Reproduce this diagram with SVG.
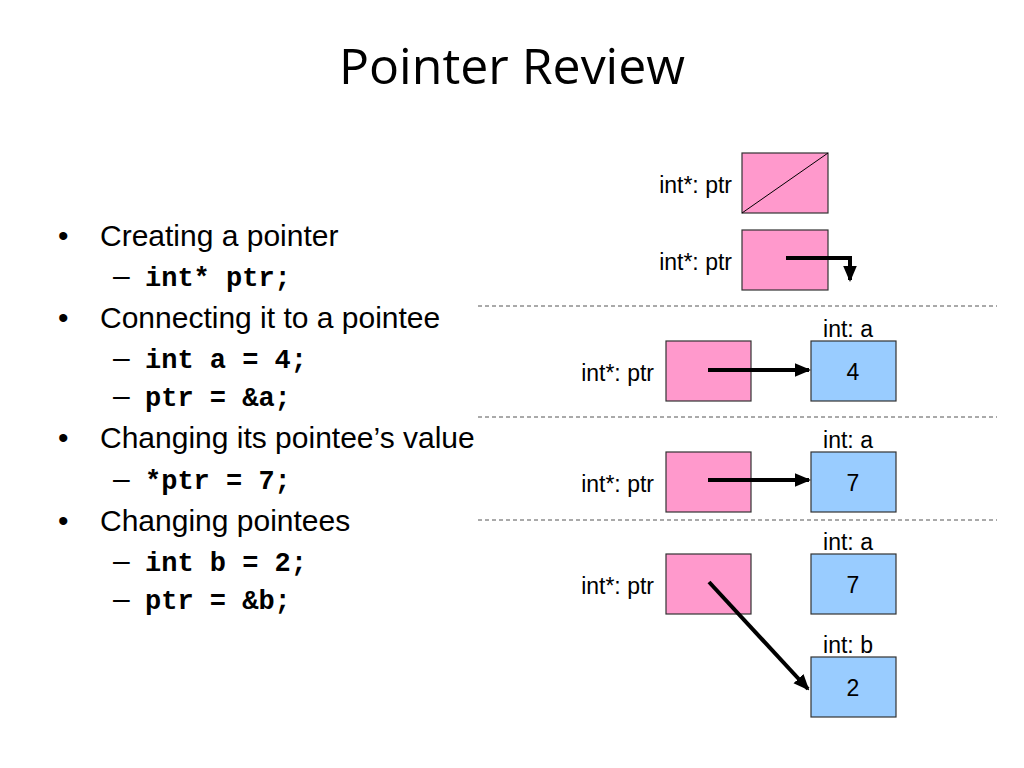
<svg xmlns="http://www.w3.org/2000/svg" width="1024" height="768" viewBox="0 0 1024 768">
<style>
.t{font-family:"Liberation Sans",Arial,sans-serif;font-size:22px;fill:#000}
.b{font-family:"Liberation Sans",Arial,sans-serif;font-size:30px;fill:#000}
.c{font-family:"Liberation Mono","Courier New",monospace;font-size:27px;font-weight:bold;fill:#000}
.l{font-family:"Liberation Sans",Arial,sans-serif;font-size:23px;fill:#000}
.p{fill:#ff99cc;stroke:#333;stroke-width:1.2}
.q{fill:#99ccff;stroke:#333;stroke-width:1.2}
.d{stroke:#555;stroke-width:1;stroke-dasharray:4 3}
.a{stroke:#000;stroke-width:4;fill:none}
</style>
<defs><marker id="ah" markerWidth="4" markerHeight="4" refX="3.5" refY="2" orient="auto" markerUnits="strokeWidth"><path d="M0,0.3 L4,2 L0,3.7Z" fill="#000"/></marker></defs>
<rect width="1024" height="768" fill="#fff"/>
<text x="512" y="84" text-anchor="middle" font-family="'Open Sans','Liberation Sans',sans-serif" font-size="50">Pointer Review</text>
<g id="bullets">
<text class="b" x="58" y="246">•</text><text class="b" x="100" y="246">Creating a pointer</text>
<text class="b" x="113" y="286">–</text><text class="c" x="145" y="286">int* ptr;</text>
<text class="b" x="58" y="328">•</text><text class="b" x="100" y="328">Connecting it to a pointee</text>
<text class="b" x="113" y="368">–</text><text class="c" x="145" y="368">int a = 4;</text>
<text class="b" x="113" y="406">–</text><text class="c" x="145" y="406">ptr = &amp;a;</text>
<text class="b" x="58" y="448">•</text><text class="b" x="100" y="448">Changing its pointee’s value</text>
<text class="b" x="113" y="489">–</text><text class="c" x="145" y="489">*ptr = 7;</text>
<text class="b" x="58" y="531">•</text><text class="b" x="100" y="531">Changing pointees</text>
<text class="b" x="113" y="571">–</text><text class="c" x="145" y="571">int b = 2;</text>
<text class="b" x="113" y="609">–</text><text class="c" x="145" y="609">ptr = &amp;b;</text>
</g>
<g id="separators">
<line class="d" x1="478" y1="306" x2="997" y2="306"/>
<line class="d" x1="478" y1="417" x2="997" y2="417"/>
<line class="d" x1="478" y1="520" x2="997" y2="520"/>
</g>
<g id="ptr1"><text class="l" x="732" y="193" text-anchor="end">int*: ptr</text><rect class="p" x="742" y="153" width="86" height="60"/><line x1="742" y1="213" x2="828" y2="153" stroke="#000" stroke-width="1"/></g>
<g id="ptr2"><text class="l" x="732" y="270" text-anchor="end">int*: ptr</text><rect class="p" x="742" y="230" width="86" height="60"/></g>
<g id="ptr3"><text class="l" x="654" y="381" text-anchor="end">int*: ptr</text><rect class="p" x="666" y="341" width="85" height="60"/></g>
<g id="a3"><text class="l" x="848" y="337" text-anchor="middle">int: a</text><rect class="q" x="811" y="341" width="85" height="60"/><text class="l" x="853" y="380" text-anchor="middle">4</text></g>
<g id="ptr4"><text class="l" x="654" y="492" text-anchor="end">int*: ptr</text><rect class="p" x="666" y="452" width="85" height="60"/></g>
<g id="a4"><text class="l" x="848" y="448" text-anchor="middle">int: a</text><rect class="q" x="811" y="452" width="85" height="60"/><text class="l" x="853" y="491" text-anchor="middle">7</text></g>
<g id="ptr5"><text class="l" x="654" y="594" text-anchor="end">int*: ptr</text><rect class="p" x="666" y="554" width="85" height="60"/></g>
<g id="a5"><text class="l" x="848" y="550" text-anchor="middle">int: a</text><rect class="q" x="811" y="554" width="85" height="60"/><text class="l" x="853" y="593" text-anchor="middle">7</text></g>
<g id="b5"><text class="l" x="848" y="653" text-anchor="middle">int: b</text><rect class="q" x="811" y="657" width="85" height="60"/><text class="l" x="853" y="696" text-anchor="middle">2</text></g>
<g id="connectors">
<path class="a" d="M786,258 H850 V280" marker-end="url(#ah)"/>
<path class="a" d="M708,370 H809" marker-end="url(#ah)"/>
<path class="a" d="M708,480 H809" marker-end="url(#ah)"/>
<path class="a" d="M709,582 L808,689" marker-end="url(#ah)"/>
</g>
</svg>
